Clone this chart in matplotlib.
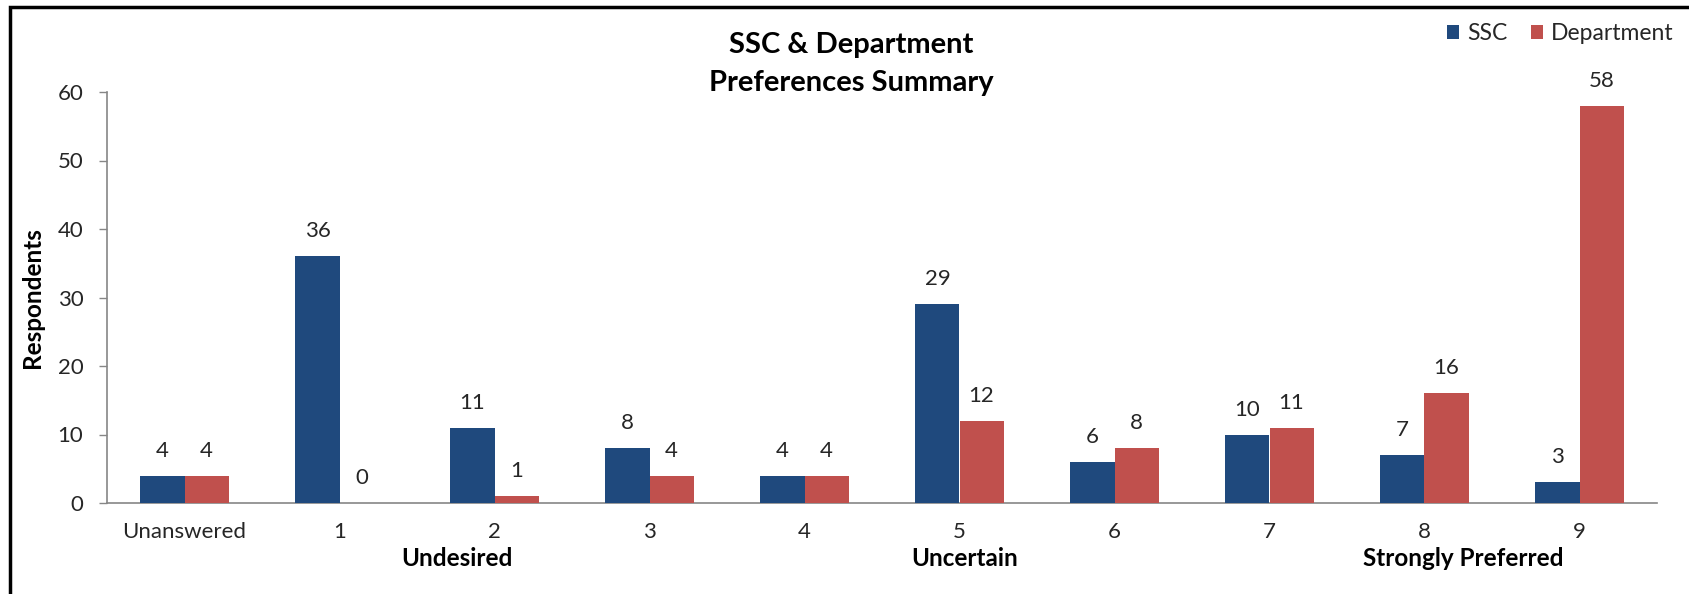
import matplotlib
matplotlib.use("Agg")
import matplotlib.pyplot as plt
import matplotlib.transforms as mtransforms
from matplotlib.patches import Rectangle
import numpy as np

# chart data
categories = ["Unanswered", "1", "2", "3", "4", "5", "6", "7", "8", "9"]
ssc = [4, 36, 11, 8, 4, 29, 6, 10, 7, 3]
department = [4, 0, 1, 4, 4, 12, 8, 11, 16, 58]
y_ticks = [0, 10, 20, 30, 40, 50, 60]
# scale words under the axis, at fractional category positions
scale_labels = ["Undesired", "Uncertain", "Strongly Preferred"]
scale_pos = [1.76, 5.03, 8.25]

BLUE = "#1F497D"
RED = "#C0504D"
TEXT = "#262626"
AXIS = "#868686"

plt.rcParams["font.family"] = ["Lato", "DejaVu Sans"]

W, H = 1690, 594
fig = plt.figure(figsize=(W / 100, H / 100), dpi=100)
ax = fig.add_axes([107 / W, 1 - 503 / H, (1657 - 107) / W, (503 - 92) / H])

x = np.arange(len(categories))
bw = 0.284
b1 = ax.bar(x - bw / 2, ssc, bw, color=BLUE, label="SSC", zorder=3)
b2 = ax.bar(x + bw / 2, department, bw, color=RED, label="Department", zorder=3)

for bars in (b1, b2):
    for rect in bars:
        h = rect.get_height()
        ax.annotate(f"{int(h)}", (rect.get_x() + rect.get_width() / 2, h),
                    xytext=(0, 15), textcoords="offset pixels",
                    ha="center", va="bottom", fontsize=16, color=TEXT)

ax.set_xlim(-0.5, len(categories) - 0.5)
ax.set_ylim(0, 60)
ax.set_yticks(y_ticks)
ax.set_xticks(x)
ax.set_xticklabels(categories)
ax.tick_params(axis="y", length=6, width=1, color=AXIS, labelsize=16,
               labelcolor=TEXT, pad=11)
ax.tick_params(axis="x", length=0, labelsize=16, labelcolor=TEXT, pad=14)

for s in ("top", "right"):
    ax.spines[s].set_visible(False)
for s in ("left", "bottom"):
    ax.spines[s].set_color(AXIS)
    ax.spines[s].set_linewidth(1.2)

fig.text(33 / W, 1 - 298 / H, "Respondents", rotation=90, ha="center",
         va="center", fontsize=17.5, fontweight="bold", color="black")

# scale words below the tick labels
trans = mtransforms.blended_transform_factory(ax.transData, fig.transFigure)
for lab, pos in zip(scale_labels, scale_pos):
    ax.text(pos, 1 - 558 / H, lab, transform=trans, ha="center",
            va="center", fontsize=17.5, fontweight="bold", color="black")

fig.text(851 / W, 1 - 45 / H, "SSC & Department", ha="center",
         va="center", fontsize=21, fontweight="bold", color="black")
fig.text(851 / W, 1 - 83 / H, "Preferences Summary", ha="center",
         va="center", fontsize=21, fontweight="bold", color="black")

leg = fig.legend(handles=[b1, b2], loc="center right",
                 bbox_to_anchor=(1683 / W, 1 - 34 / H), ncol=2, frameon=False,
                 fontsize=16.5, handlelength=0.55, handleheight=0.55,
                 handletextpad=0.35, columnspacing=1.0, borderaxespad=0)
for t in leg.get_texts():
    t.set_color(TEXT)

# black frame around the chart (runs off the right and bottom edges)
fig.patches.append(Rectangle((10 / W, -0.05), 1.1, 1 - 7 / H + 0.05,
                             transform=fig.transFigure, fill=False,
                             edgecolor="black", linewidth=2.5))

fig.savefig("out.png", dpi=100)
